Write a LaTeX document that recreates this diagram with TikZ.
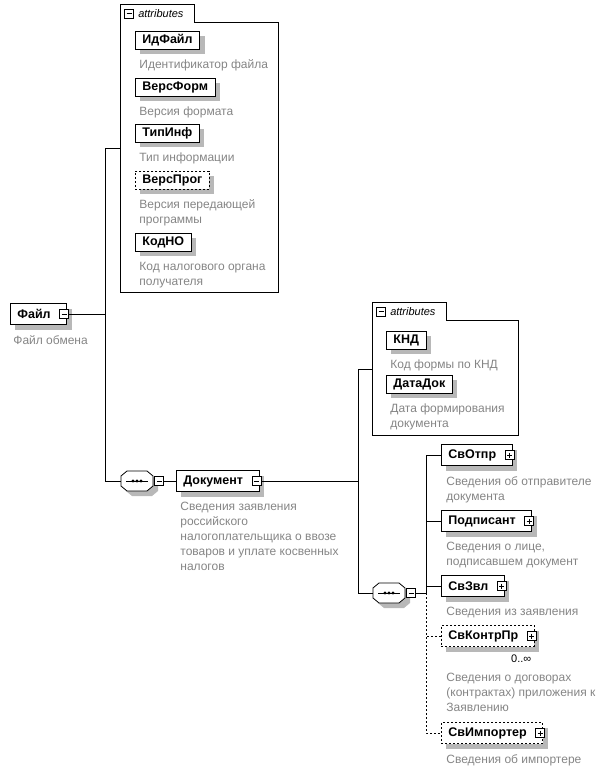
\documentclass[tikz,border=0pt]{standalone}
\usepackage{fontspec}
\setmainfont{Liberation Sans}
\usetikzlibrary{positioning,calc,shadows}
\definecolor{descgray}{HTML}{858585}
\newcommand{\seqmark}[1]{%
  \fill[black!28] ($(#1)+(-11,0)$) -- ($(#1)+(-5,-5)$) -- ($(#1)+(15,-5)$) -- ($(#1)+(21,0)$)
    -- ($(#1)+(21,10)$) -- ($(#1)+(15,15)$) -- ($(#1)+(-5,15)$) -- ($(#1)+(-11,10)$) -- cycle;
  \draw[fill=white] ($(#1)+(-16,-5)$) -- ($(#1)+(-10,-10)$) -- ($(#1)+(10,-10)$) -- ($(#1)+(16,-5)$)
    -- ($(#1)+(16,5)$) -- ($(#1)+(10,10)$) -- ($(#1)+(-10,10)$) -- ($(#1)+(-16,5)$) -- cycle;
  \draw ($(#1)+(-11,0)$) -- ($(#1)+(11,0)$);
  \foreach \dx in {-4,0,4} \fill ($(#1)+(\dx,0)$) circle (1.6pt);}

\begin{document}
\begin{tikzpicture}[
  x=1pt,y=-1pt,line width=0.8pt,
  shade_box/.style={general shadow={fill=black!28,shadow xshift=5pt,shadow yshift=-5pt}},
  elem/.style={draw,fill=white,shade_box,anchor=west,minimum height=21pt,inner xsep=7pt,inner ysep=0pt,font=\fontsize{12.5}{14}\selectfont\bfseries},
  elem_pm/.style={elem,execute at end node=\hspace{9pt}},
  attr/.style={draw,fill=white,shade_box,anchor=west,minimum height=18pt,inner xsep=7pt,inner ysep=0pt,font=\fontsize{12.5}{14}\selectfont\bfseries},
  opt/.style={dash pattern=on 2pt off 2pt},
  desc/.style={anchor=north west,inner sep=0pt,align=left,text=descgray,font=\fontsize{12}{15}\selectfont},
  minus_box/.style={draw,fill=white,minimum size=9pt,inner sep=0pt,line width=0.7pt,
    path picture={\draw ([xshift=2pt]path picture bounding box.west) -- ([xshift=-2pt]path picture bounding box.east);}},
  plus_box/.style={draw,fill=white,minimum size=9pt,inner sep=0pt,line width=0.7pt,
    path picture={\draw ([xshift=2pt]path picture bounding box.west) -- ([xshift=-2pt]path picture bounding box.east);
      \draw ([yshift=-2pt]path picture bounding box.north) -- ([yshift=2pt]path picture bounding box.south);}},
  seq/.style={minimum width=32pt,minimum height=20pt,inner sep=0pt},
  attr_tab/.style={anchor=north west,minimum width=74pt,minimum height=18pt,inner sep=0pt},
  attr_body/.style={anchor=north west,inner sep=0pt},
  tab_text/.style={inner sep=0pt,font=\fontsize{11}{13}\selectfont\itshape},
  mult/.style={anchor=north east,inner sep=0pt,font=\fontsize{11}{13}\selectfont}
  ]
  \useasboundingbox (0,0) rectangle (609,773);

  % root element
  \node[elem_pm] (file) at (10,314) {Файл};
  \node[minus_box] (filepm) at ([xshift=-3pt]file.east) {};
  \node[desc] (filedesc) at ([xshift=3pt,yshift=-10pt]file.south west) {Файл обмена};

  % attributes of the root
  \node[attr_tab] (attr1tab) at (120,4) {};
  \node[attr_body,minimum width=158pt,minimum height=270pt] (attr1) at (120,22) {};
  \draw (attr1.south west) |- (attr1tab.north east) |- (attr1.north east) -- (attr1.south east) -- cycle;
  \node[minus_box] (attr1pm) at ([xshift=9pt]attr1tab.west) {};
  \node[tab_text,right=4pt of attr1pm] (attr1text) {attributes};
  \coordinate (attr1in) at ($(attr1tab.north west)!.5!(attr1.south west)$);

  \node[attr] (idfile) at (135,40) {ИдФайл};
  \node[desc] (idfiledesc) at ([xshift=4pt,yshift=-10pt]idfile.south west) {Идентификатор файла};
  \node[attr] (versform) at (135,87) {ВерсФорм};
  \node[desc] (versformdesc) at ([xshift=4pt,yshift=-10pt]versform.south west) {Версия формата};
  \node[attr] (tipinf) at (135,133) {ТипИнф};
  \node[desc] (tipinfdesc) at ([xshift=4pt,yshift=-10pt]tipinf.south west) {Тип информации};
  \node[attr,opt] (versprog) at (135,180) {ВерсПрог};
  \node[desc] (versprogdesc) at ([xshift=4pt,yshift=-10pt]versprog.south west) {Версия передающей\\программы};
  \node[attr] (kodno) at (135,242) {КодНО};
  \node[desc] (kodnodesc) at ([xshift=4pt,yshift=-10pt]kodno.south west) {Код налогового органа\\получателя};

  % sequence and Документ
  \node[seq] (seq1) at (137,481) {};
  \seqmark{seq1}
  \node[minus_box,right=1pt of seq1] (seq1pm) {};
  \node[elem_pm] (doc) at (176,481) {Документ};
  \node[minus_box] (docpm) at ([xshift=-3pt]doc.east) {};
  \node[desc] (docdesc) at ([xshift=4pt,yshift=-10pt]doc.south west)
    {Сведения заявления\\российского\\налогоплательщика о ввозе\\товаров и уплате косвенных\\налогов};

  % attributes of Документ
  \node[attr_tab] (attr2tab) at (372,302) {};
  \node[attr_body,minimum width=146pt,minimum height=115pt] (attr2) at (372,320) {};
  \draw (attr2.south west) |- (attr2tab.north east) |- (attr2.north east) -- (attr2.south east) -- cycle;
  \node[minus_box] (attr2pm) at ([xshift=9pt]attr2tab.west) {};
  \node[tab_text,right=4pt of attr2pm] (attr2text) {attributes};
  \coordinate (attr2in) at ($(attr2tab.north west)!.5!(attr2.south west)$);

  \node[attr] (knd) at (386,340) {КНД};
  \node[desc] (knddesc) at ([xshift=4pt,yshift=-10pt]knd.south west) {Код формы по КНД};
  \node[attr] (datadok) at (386,384) {ДатаДок};
  \node[desc] (datadokdesc) at ([xshift=4pt,yshift=-10pt]datadok.south west) {Дата формирования\\документа};

  % children of Документ
  \node[seq] (seq2) at (389,593) {};
  \seqmark{seq2}
  \node[minus_box,right=1pt of seq2] (seq2pm) {};

  \node[elem_pm] (svotpr) at (441,455) {СвОтпр};
  \node[plus_box] (svotprpm) at ([xshift=-3pt]svotpr.east) {};
  \node[desc] (svotprdesc) at ([xshift=5pt,yshift=-10pt]svotpr.south west) {Сведения об отправителе\\документа};
  \node[elem_pm] (podp) at (441,521) {Подписант};
  \node[plus_box] (podppm) at ([xshift=-3pt]podp.east) {};
  \node[desc] (podpdesc) at ([xshift=5pt,yshift=-10pt]podp.south west) {Сведения о лице,\\подписавшем документ};
  \node[elem_pm] (svzvl) at (441,586) {СвЗвл};
  \node[plus_box] (svzvlpm) at ([xshift=-3pt]svzvl.east) {};
  \node[desc] (svzvldesc) at ([xshift=5pt,yshift=-10pt]svzvl.south west) {Сведения из заявления};
  \node[elem_pm,opt] (svkontr) at (441,636) {СвКонтрПр};
  \node[plus_box] (svkontrpm) at ([xshift=-3pt]svkontr.east) {};
  \node[mult] (svkontrmult) at ([xshift=-3pt,yshift=-8pt]svkontr.south east) {0..∞};
  \node[desc] (svkontrdesc) at ([xshift=5pt,yshift=-26pt]svkontr.south west)
    {Сведения о договорах\\(контрактах) приложения к\\Заявлению};
  \node[elem_pm,opt] (svimp) at (441,733) {СвИмпортер};
  \node[plus_box] (svimppm) at ([xshift=-3pt]svimp.east) {};
  \node[desc] (svimpdesc) at ([xshift=5pt,yshift=-10pt]svimp.south west) {Сведения об импортере};

  % connectors
  \coordinate (fork1) at ($(filepm.east)+(37,0)$);
  \draw (filepm.east) -- (fork1);
  \draw (fork1) |- (attr1in);
  \draw (fork1) |- (seq1.west);
  \draw (seq1pm.east) -- (doc.west);

  \coordinate (fork2) at ($(docpm.east)+(97,0)$);
  \draw (docpm.east) -- (fork2);
  \draw (fork2) |- (attr2in);
  \draw (fork2) |- (seq2.west);

  \coordinate (fork3) at ($(seq2pm.east)+(10,0)$);
  \draw (seq2pm.east) -- (fork3);
  \draw (fork3) |- (svotpr.west);
  \draw (fork3) |- (podp.west);
  \draw (fork3) |- (svzvl.west);
  \draw[opt] (fork3) |- (svkontr.west);
  \draw[opt] (fork3) |- (svimp.west);
\end{tikzpicture}
\end{document}
